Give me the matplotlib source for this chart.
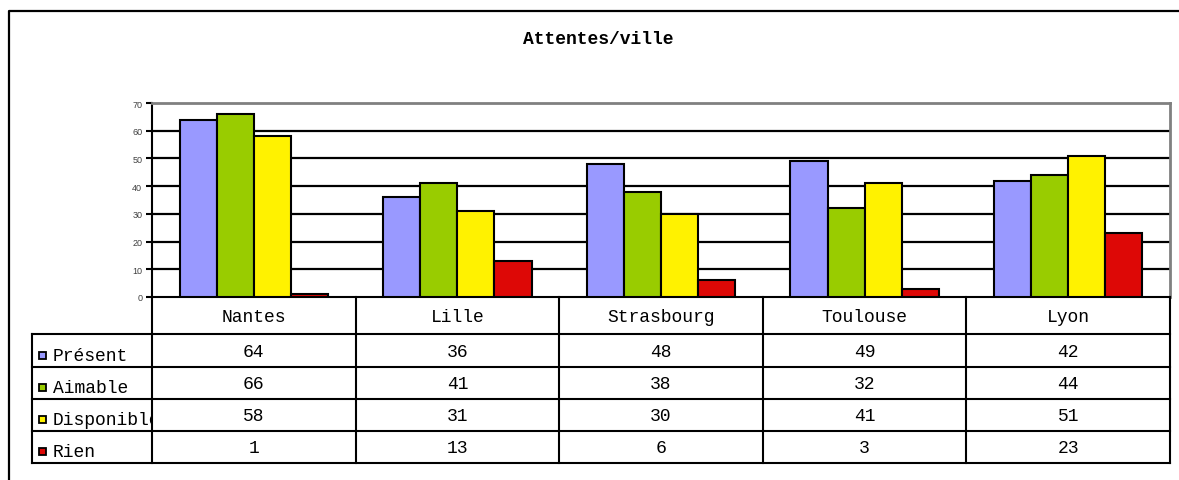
import matplotlib

matplotlib.use("Agg")

import matplotlib.pyplot as plt
from matplotlib.patches import Rectangle

# Data
cities = ["Nantes", "Lille", "Strasbourg", "Toulouse", "Lyon"]
series_names = ["Présent", "Aimable", "Disponible", "Rien"]
present = [64, 36, 48, 49, 42]
aimable = [66, 41, 38, 32, 44]
disponible = [58, 31, 30, 41, 51]
rien = [1, 13, 6, 3, 23]
series_colors = ["#9999FF", "#99CC00", "#FFF200", "#DD0806"]
y_ticks = [0, 10, 20, 30, 40, 50, 60, 70]

W, H = 1179, 481
MONO = "Liberation Mono"
FS = 13

fig = plt.figure(figsize=(W / 100, H / 100), dpi=100, facecolor="white")

# plot area in pixels
px_left, px_right, px_top, px_bottom = 152, 1170, 104, 298
ax = fig.add_axes([px_left / W, (H - px_bottom) / H,
                   (px_right - px_left) / W, (px_bottom - px_top) / H])

values = [present, aimable, disponible, rien]
bar_w = 0.182
n = len(series_names)
for i, (vals, col) in enumerate(zip(values, series_colors)):
    xs = [k + 0.5 + (i - (n - 1) / 2) * bar_w for k in range(len(cities))]
    ax.bar(xs, vals, width=bar_w, color=col, edgecolor="black", linewidth=1.5, zorder=3)

ax.set_xlim(0, len(cities))
ax.set_ylim(0, 70)
ax.set_yticks(y_ticks)
ax.set_xticks([])
for t in y_ticks[1:-1]:
    ax.axhline(t, color="black", linewidth=1.6, zorder=1)
ax.tick_params(axis="y", direction="out", length=4, width=1.5, color="black",
               labelsize=6.5, labelcolor="#404040", pad=3)
for lab in ax.get_yticklabels():
    lab.set_fontfamily("Liberation Sans")
ax.spines["left"].set_color("black")
ax.spines["left"].set_linewidth(1.5)
ax.spines["bottom"].set_color("black")
ax.spines["bottom"].set_linewidth(1.5)
ax.spines["top"].set_color("#808080")
ax.spines["top"].set_linewidth(2)
ax.spines["right"].set_color("#808080")
ax.spines["right"].set_linewidth(2)

# overlay in pixel coordinates for frame, title and data table
ov = fig.add_axes([0, 0, 1, 1], zorder=5)
ov.set_xlim(0, W)
ov.set_ylim(H, 0)
ov.axis("off")
ov.patch.set_alpha(0)

ov.plot([9, 9, W], [H, 12, 12], color="black", linewidth=1.6, solid_capstyle="projecting")

ov.text(598, 40, "Attentes/ville", ha="center", va="center", family=MONO,
        fontsize=13, fontweight="bold")

# data table
lab_left = 32
col_w = (px_right - px_left) / len(cities)
row_edges = [px_bottom, 335, 368, 400, 432, 464]
col_edges = [px_left + k * col_w for k in range(len(cities) + 1)]
lw = 1.5

for x in col_edges:
    ov.plot([x, x], [row_edges[0], row_edges[-1]], color="black", linewidth=lw)
for y in row_edges[1:]:
    ov.plot([lab_left, px_right], [y, y], color="black", linewidth=lw)
ov.plot([lab_left, lab_left], [row_edges[1], row_edges[-1]], color="black", linewidth=lw)

for k, city in enumerate(cities):
    ov.text((col_edges[k] + col_edges[k + 1]) / 2, (row_edges[0] + row_edges[1]) / 2 + 1,
            city, ha="center", va="center", family=MONO, fontsize=FS)

for r, (name, vals, col) in enumerate(zip(series_names, values, series_colors)):
    y0, y1 = row_edges[r + 1], row_edges[r + 2]
    yc = (y0 + y1) / 2
    for k, v in enumerate(vals):
        ov.text((col_edges[k] + col_edges[k + 1]) / 2, yc + 1, str(v),
                ha="center", va="center", family=MONO, fontsize=FS)
    ov.add_patch(Rectangle((39, yc + 1), 7, 7, facecolor=col, edgecolor="black",
                           linewidth=1.3))
    clip = Rectangle((lab_left, y0), px_left - lab_left - 1, y1 - y0,
                     transform=ov.transData)
    t = ov.text(53, yc + 5, name, ha="left", va="center", family=MONO, fontsize=FS,
                clip_on=True)
    t.set_clip_path(clip)

fig.savefig("out.png", dpi=100, facecolor="white")
